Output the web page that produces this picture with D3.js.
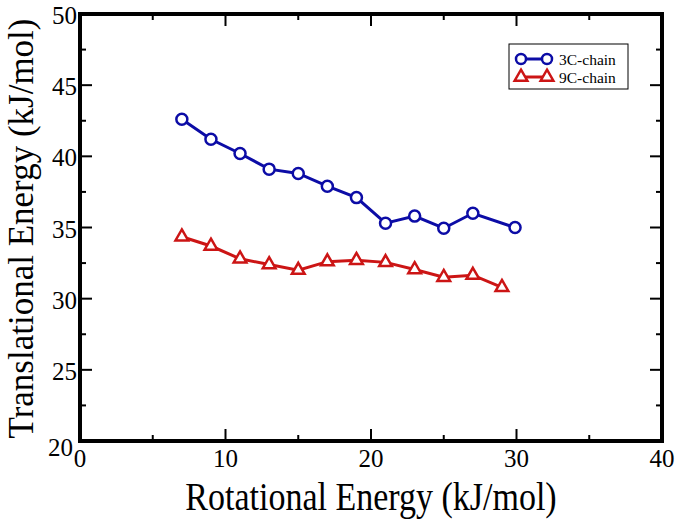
<!DOCTYPE html>
<html><head><meta charset="utf-8">
<script src="https://cdn.jsdelivr.net/npm/d3@7"></script>
<style>body{margin:0;background:#fff}svg{display:block}text{font-family:"Liberation Serif","Times New Roman",Times,serif}</style>
</head><body>
<svg id="c" width="678" height="522"></svg>
<script>
const xTicks = [0, 10, 20, 30, 40];
const yTicks = [20, 25, 30, 35, 40, 45, 50];
const seriesNames = ["3C-chain", "9C-chain"];
const x3C = [7, 9, 11, 13, 15, 17, 19, 21, 23, 25, 27, 29.9];
const y3C = [42.6, 41.2, 40.2, 39.1, 38.8, 37.9, 37.1, 35.3, 35.8, 34.95, 36.0, 35.0];
const x9C = [7, 9, 11, 13, 15, 17, 19, 21, 23, 25, 27, 29];
const y9C = [34.35, 33.7, 32.8, 32.4, 32.0, 32.6, 32.7, 32.55, 32.05, 31.5, 31.65, 30.8];

const svg = d3.select("#c");
const L = 80, R = 662, T = 14, B = 441;
const x = d3.scaleLinear().domain([0, 40]).range([L, R]);
const y = d3.scaleLinear().domain([20, 50]).range([B, T]);

const g = svg.append("g");
const xMinor = d3.range(5, 40, 10);
const yMinor = d3.range(22.5, 50, 5);
function tick(x1, y1, x2, y2) {
  g.append("line").attr("x1", x1).attr("y1", y1).attr("x2", x2).attr("y2", y2).attr("stroke", "#000").attr("stroke-width", 2);
}
xTicks.forEach(v => { tick(x(v), B, x(v), B - 12); tick(x(v), T, x(v), T + 12); });
xMinor.forEach(v => { tick(x(v), B, x(v), B - 6); tick(x(v), T, x(v), T + 6); });
yTicks.forEach(v => { tick(L, y(v), L + 12, y(v)); tick(R, y(v), R - 12, y(v)); });
yMinor.forEach(v => { tick(L, y(v), L + 6, y(v)); tick(R, y(v), R - 6, y(v)); });
svg.append("rect").attr("x", L).attr("y", T).attr("width", R - L).attr("height", B - T)
  .attr("fill", "none").attr("stroke", "#000").attr("stroke-width", 4);

xTicks.forEach(v => {
  svg.append("text").attr("x", x(v)).attr("y", B + 26).attr("text-anchor", "middle")
    .attr("font-size", 25).text(v);
});
yTicks.forEach((v, i) => {
  svg.append("text").attr("x", i === 0 ? L - 7 : L - 3).attr("y", y(v) + (i === 0 ? 15 : 10)).attr("text-anchor", "end")
    .attr("font-size", 25).text(v);
});

svg.append("text").attr("transform", `translate(${(L + R) / 2},510) scale(1,1.2)`).attr("text-anchor", "middle")
  .attr("font-size", 34).text("Rotational Energy (kJ/mol)");
svg.append("text").attr("transform", `translate(33,${(T + B) / 2 + 1}) rotate(-90)`).attr("text-anchor", "middle")
  .attr("font-size", 35).text("Translational Energy (kJ/mol)");

const blue = "#0c0ca6", red = "#cc1515";
const line = d3.line().x(d => x(d[0])).y(d => y(d[1]));
const d3C = x3C.map((v, i) => [v, y3C[i]]);
const d9C = x9C.map((v, i) => [v, y9C[i]]);

svg.append("path").datum(d3C).attr("d", line).attr("fill", "none").attr("stroke", blue).attr("stroke-width", 3);
svg.selectAll(".c3").data(d3C).enter().append("circle")
  .attr("cx", d => x(d[0])).attr("cy", d => y(d[1])).attr("r", 5.5)
  .attr("fill", "#fff").attr("stroke", blue).attr("stroke-width", 2.5);

const tri = d3.symbol().type(d3.symbolTriangle).size(70);
svg.append("path").datum(d9C).attr("d", line).attr("fill", "none").attr("stroke", red).attr("stroke-width", 3);
svg.selectAll(".t9").data(d9C).enter().append("path")
  .attr("d", tri).attr("transform", d => `translate(${x(d[0])},${y(d[1])})`)
  .attr("fill", "#fff").attr("stroke", red).attr("stroke-width", 2.5);

const lg = svg.append("g");
lg.append("rect").attr("x", 509).attr("y", 44).attr("width", 119).attr("height", 45)
  .attr("fill", "#fff").attr("stroke", "#000").attr("stroke-width", 1);
[[blue, "c", seriesNames[0], 59], [red, "t", seriesNames[1], 77]].forEach(([col, m, name, yy]) => {
  lg.append("line").attr("x1", 521).attr("x2", 547).attr("y1", yy).attr("y2", yy).attr("stroke", col).attr("stroke-width", 3);
  [521, 547].forEach(xx => {
    if (m === "c") lg.append("circle").attr("cx", xx).attr("cy", yy).attr("r", 5).attr("fill", "#fff").attr("stroke", col).attr("stroke-width", 2.5);
    else lg.append("path").attr("d", tri).attr("transform", `translate(${xx},${yy})`).attr("fill", "#fff").attr("stroke", col).attr("stroke-width", 2.5);
  });
  lg.append("text").attr("x", 559).attr("y", yy + 5.5).attr("font-size", 15.5).text(name);
});
</script>
</body></html>
